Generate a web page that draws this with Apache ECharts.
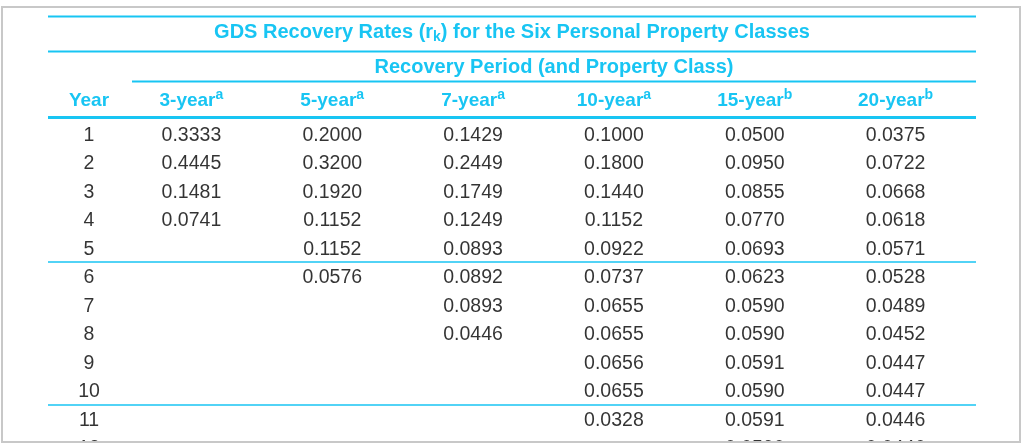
<!DOCTYPE html>
<html><head><meta charset="utf-8">
<script src="https://cdn.jsdelivr.net/npm/echarts@6/dist/echarts.min.js"></script>
<style>html,body{margin:0;padding:0;background:#fff;width:1024px;height:445px;overflow:hidden}#c{width:1024px;height:480px}</style>
</head><body><div id="c"></div>
<script>
// ---- data ----
const years = [1, 2, 3, 4, 5, 6, 7, 8, 9, 10, 11, 12];
const classLabels = ['3-year', '5-year', '7-year', '10-year', '15-year', '20-year'];
const classNotes = ['a', 'a', 'a', 'a', 'b', 'b'];
const rate3 = [0.3333, 0.4445, 0.1481, 0.0741];
const rate5 = [0.2000, 0.3200, 0.1920, 0.1152, 0.1152, 0.0576];
const rate7 = [0.1429, 0.2449, 0.1749, 0.1249, 0.0893, 0.0892, 0.0893, 0.0446];
const rate10 = [0.1000, 0.1800, 0.1440, 0.1152, 0.0922, 0.0737, 0.0655, 0.0655, 0.0656, 0.0655, 0.0328];
const rate15 = [0.0500, 0.0950, 0.0855, 0.0770, 0.0693, 0.0623, 0.0590, 0.0590, 0.0591, 0.0590, 0.0591, 0.0590];
const rate20 = [0.0375, 0.0722, 0.0668, 0.0618, 0.0571, 0.0528, 0.0489, 0.0452, 0.0447, 0.0447, 0.0446, 0.0446];
const groupBreaks = [5, 10]; // rule drawn after these many rows

// ---- style ----
const CYAN = '#18c5f3';
const INK = '#000000';
const FONT = '"Liberation Sans", Arial, Helvetica, sans-serif';
const rowH = 28.5;
const gridTop = 119.5;
const gridH = rowH * years.length;

const rateCols = [rate3, rate5, rate7, rate10, rate15, rate20];
const rowNames = years.map(String);

const cellLabel = {
  show: true, position: 'inside', offset: [0, 1.5], color: INK, fontFamily: FONT, fontSize: 19.5,
  formatter: p => p.value[2].toFixed(4)
};

const series = [{
  type: 'scatter', xAxisIndex: 0, yAxisIndex: 0, symbolSize: 1,
  itemStyle: { color: 'rgba(0,0,0,0)' }, silent: true,
  data: years.map((y, i) => [0, i, y]),
  label: Object.assign({}, cellLabel, { formatter: p => String(p.value[2]) })
}];
rateCols.forEach((col, c) => {
  series.push({
    type: 'scatter', xAxisIndex: 1, yAxisIndex: 1, symbolSize: 1,
    itemStyle: { color: 'rgba(0,0,0,0)' }, silent: true,
    data: col.map((v, i) => [c, i, v]),
    label: cellLabel
  });
});
series.push({ type: 'scatter', xAxisIndex: 2, yAxisIndex: 2, data: [], silent: true });

const hdr = { fontSize: 19, fontWeight: 'bold', color: CYAN, fontFamily: FONT, lineHeight: 24 };

const option = {
  animation: false,
  backgroundColor: '#ffffff',
  title: [{
    text: '{t|GDS Recovery Rates (r}{k|k}{t|) for the Six Personal Property Classes}',
    left: 'center', top: 15,
    textStyle: {
      rich: {
        t: { fontSize: 20, fontWeight: 'bold', color: CYAN, fontFamily: FONT, lineHeight: 24 },
        k: { fontSize: 14, fontWeight: 'bold', color: CYAN, fontFamily: FONT, lineHeight: 24, verticalAlign: 'bottom' }
      }
    }
  }, {
    text: 'Recovery Period (and Property Class)',
    left: 549, top: 50, textAlign: 'center',
    textStyle: { fontSize: 20, fontWeight: 'bold', color: CYAN, fontFamily: FONT, lineHeight: 24 }
  }],
  grid: [
    { left: 48, width: 82, top: gridTop, height: gridH },
    { left: 121, width: 845, top: gridTop, height: gridH },
    { left: 48, width: 928, top: gridTop, height: gridH }
  ],
  xAxis: [{
    type: 'category', gridIndex: 0, position: 'top', data: ['Year'],
    axisLine: { show: false }, axisTick: { show: false },
    axisLabel: { margin: 9, fontSize: 19, fontWeight: 'bold', color: CYAN, fontFamily: FONT }
  }, {
    type: 'category', gridIndex: 1, position: 'top', data: classLabels,
    axisLine: { show: false }, axisTick: { show: false },
    axisLabel: {
      margin: 7, interval: 0,
      formatter: (v, i) => '{m|' + v + '}{s|' + classNotes[i] + '}',
      rich: {
        m: hdr,
        s: { fontSize: 14, fontWeight: 'bold', color: CYAN, fontFamily: FONT, lineHeight: 24, verticalAlign: 'top' }
      }
    }
  }, {
    type: 'category', gridIndex: 2, data: [''], show: false
  }],
  yAxis: [{
    type: 'category', gridIndex: 0, data: rowNames, inverse: true, show: false
  }, {
    type: 'category', gridIndex: 1, data: rowNames, inverse: true, show: false
  }, {
    type: 'category', gridIndex: 2, data: rowNames, inverse: true,
    axisLine: { show: false }, axisTick: { show: false }, axisLabel: { show: false },
    splitLine: {
      show: true,
      interval: (i) => groupBreaks.indexOf(i) >= 0,
      lineStyle: { color: CYAN, width: 1.5 }
    }
  }],
  graphic: [
    { type: 'line', shape: { x1: 48, y1: 16.5, x2: 976, y2: 16.5 }, style: { stroke: CYAN, lineWidth: 2 }, silent: true },
    { type: 'line', shape: { x1: 48, y1: 51.5, x2: 976, y2: 51.5 }, style: { stroke: CYAN, lineWidth: 2 }, silent: true },
    { type: 'line', shape: { x1: 132, y1: 81.5, x2: 976, y2: 81.5 }, style: { stroke: CYAN, lineWidth: 2 }, silent: true },
    { type: 'line', shape: { x1: 48, y1: 117.5, x2: 976, y2: 117.5 }, style: { stroke: CYAN, lineWidth: 3 }, silent: true },
    { type: 'rect', shape: { x: 0, y: 442, width: 1024, height: 60 }, style: { fill: '#ffffff' }, z: 100, silent: true },
    { type: 'rect', shape: { x: 2, y: 7, width: 1018, height: 435 }, style: { fill: 'none', stroke: '#c8c8c8', lineWidth: 2 }, z: 101, silent: true }
  ],
  series: series
};
const chart = echarts.init(document.getElementById('c'));
chart.setOption(option);
</script>
</body></html>
